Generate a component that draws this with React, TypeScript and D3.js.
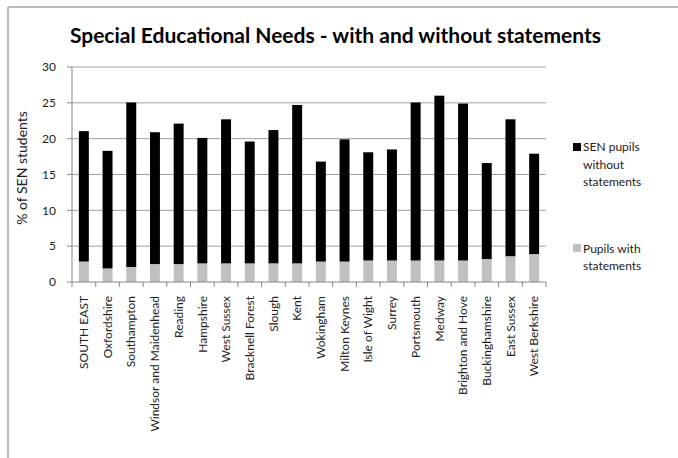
import React from "react";
import * as d3 from "d3";

const categories = [
  "SOUTH EAST", "Oxfordshire", "Southampton", "Windsor and Maidenhead", "Reading",
  "Hampshire", "West Sussex", "Bracknell Forest", "Slough", "Kent", "Wokingham",
  "Milton Keynes", "Isle of Wight", "Surrey", "Portsmouth", "Medway",
  "Brighton and Hove", "Buckinghamshire", "East Sussex", "West Berkshire",
];
const withStatements = [2.85, 1.9, 2.1, 2.5, 2.5, 2.6, 2.6, 2.6, 2.6, 2.6, 2.85, 2.85, 3.0, 3.0, 3.0, 3.0, 3.0, 3.2, 3.6, 3.9];
const withoutStatements = [18.2, 16.4, 22.95, 18.4, 19.6, 17.5, 20.1, 17.0, 18.6, 22.1, 13.95, 17.05, 15.1, 15.5, 22.05, 23.0, 21.9, 13.4, 19.1, 14.0];
const yTicks = [0, 5, 10, 15, 20, 25, 30];

const W = 678, H = 458;
const L = 72, R = 546, T = 67, B = 282;
const FONT = "Lato, 'Open Sans', sans-serif";

export default function App() {
  const x = d3.scaleBand<string>().domain(categories).range([L, R]).paddingInner(0.58).paddingOuter(0.29);
  const xb = d3.scaleBand<string>().domain(categories).range([L, R]);
  const y = d3.scaleLinear().domain([0, 30]).range([B, T]);
  const rows = categories.map((c, i) => ({ c, w: withStatements[i], wo: withoutStatements[i] }));
  const stack = d3.stack<any>().keys(["w", "wo"])(rows);
  const colors = { w: "#c0c0c0", wo: "#000000" } as any;

  return (
    <svg width={W} height={H} style={{ position: "absolute", left: 0, top: 0, background: "#fff" }}>
      <rect x={0} y={0} width={W} height={H} fill="#fff" />
      <line x1={8} y1={7} x2={W} y2={7} stroke="#a6a6a6" strokeWidth={1.5} />
      <line x1={8} y1={7} x2={8} y2={H} stroke="#a6a6a6" strokeWidth={1.5} />
      <text x={335.5} y={43} textAnchor="middle" fontFamily={FONT} fontWeight="bold" fontSize={21} fill="#000">
        Special Educational Needs - with and without statements
      </text>
      {yTicks.map((t) => (
        <g key={t}>
          {t > 0 && <line x1={L} x2={R} y1={y(t)} y2={y(t)} stroke="#a0a0a0" strokeWidth={1} />}
          <line x1={L - 5} x2={L} y1={y(t)} y2={y(t)} stroke="#868686" />
          <text x={56} y={y(t)} dy="0.35em" textAnchor="end" fontFamily={FONT} fontSize={12} fill="#222">{t}</text>
        </g>
      ))}
      {stack.map((s) => (
        <g key={s.key}>
          {s.map((d, i) => (
            <rect key={i} x={x(categories[i])} width={x.bandwidth()} y={y(d[1])} height={y(d[0]) - y(d[1])} fill={colors[s.key]} />
          ))}
        </g>
      ))}
      <line x1={L} x2={L} y1={T} y2={B} stroke="#868686" />
      <line x1={L} x2={R} y1={B} y2={B} stroke="#868686" />
      {categories.map((c, i) => (
        <line key={"t" + i} x1={xb(c)!} x2={xb(c)!} y1={B} y2={B + 5} stroke="#868686" />
      ))}
      <line x1={R} x2={R} y1={B} y2={B + 5} stroke="#868686" />
      {categories.map((c) => (
        <text key={c} transform={`translate(${xb(c)! + xb.bandwidth() / 2},296) rotate(-90)`} dy="0.35em" textAnchor="end"
          fontFamily={FONT} fontSize={12} fill="#222">{c}</text>
      ))}
      <text transform="translate(22,168) rotate(-90)" dy="0.35em" textAnchor="middle" fontFamily={FONT} fontSize={14} fill="#222">% of SEN students</text>
      <rect x={573} y={143} width={8} height={8} fill="#000" />
      <text fontFamily={FONT} fontSize={12} fill="#222">
        <tspan x={583} y={151}>SEN pupils</tspan>
        <tspan x={583} y={168.5}>without</tspan>
        <tspan x={583} y={186}>statements</tspan>
      </text>
      <rect x={573} y={244} width={8} height={8} fill="#c0c0c0" />
      <text fontFamily={FONT} fontSize={12} fill="#222">
        <tspan x={583} y={252.5}>Pupils with</tspan>
        <tspan x={583} y={270}>statements</tspan>
      </text>
    </svg>
  );
}
